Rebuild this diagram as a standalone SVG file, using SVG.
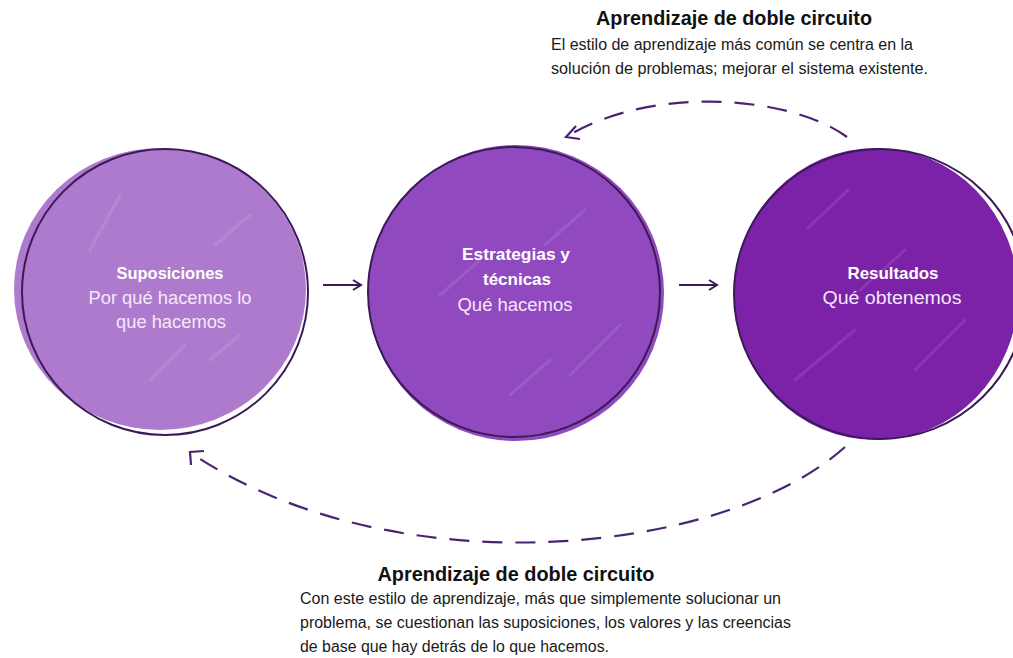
<svg xmlns="http://www.w3.org/2000/svg" width="1013" height="658" viewBox="0 0 1013 658">
<defs>
<style>
.title{font-family:"Liberation Sans","Noto Sans",sans-serif;font-weight:bold;font-size:20px;fill:#111;text-anchor:middle}
.body{font-family:"Liberation Sans","Noto Sans",sans-serif;font-size:16px;fill:#1a1a1a}
.nb{font-family:"Liberation Sans","Noto Sans",sans-serif;font-weight:bold;font-size:17px;fill:#fff;text-anchor:middle}
.nt{font-family:"Liberation Sans","Noto Sans",sans-serif;font-size:18px;fill:#f3e8fa;text-anchor:middle}
.ring{fill:none;stroke:#3b1a57;stroke-width:2}
.streak{stroke:#ffffff;stroke-opacity:0.1;stroke-width:3;stroke-linecap:round}
.conn{fill:none;stroke:#3b1a57;stroke-width:2}
.dash{fill:none;stroke:#4a2472;stroke-width:2.2;stroke-dasharray:20 13}
.head{fill:none;stroke:#4a2472;stroke-width:2.2}
</style>
<marker id="chev" viewBox="0 0 12 12" refX="10" refY="6" markerWidth="12" markerHeight="12" markerUnits="userSpaceOnUse" orient="auto">
<path d="M2,1 L10,6 L2,11" fill="none" stroke="#3b1a57" stroke-width="2"/>
</marker>
</defs>
<rect width="1013" height="658" fill="#ffffff"/>

<g id="node-suposiciones">
<ellipse cx="160" cy="289" rx="146" ry="141" fill="#ae7acd"/>
<line class="streak" x1="90" y1="250" x2="120" y2="195"/>
<line class="streak" x1="215" y1="245" x2="250" y2="215"/>
<line class="streak" x1="150" y1="380" x2="185" y2="345"/>
<line class="streak" x1="210" y1="360" x2="240" y2="335"/>
<ellipse class="ring" cx="165" cy="292" rx="143" ry="143"/>
<text class="nb" x="170" y="279" textLength="107" lengthAdjust="spacingAndGlyphs">Suposiciones</text>
<text class="nt" x="170" y="304" textLength="163" lengthAdjust="spacingAndGlyphs">Por qué hacemos lo</text>
<text class="nt" x="171" y="328" textLength="110" lengthAdjust="spacingAndGlyphs">que hacemos</text>
</g>

<g id="node-estrategias">
<ellipse cx="516" cy="293" rx="148" ry="148" fill="#9049bf"/>
<line class="streak" x1="545" y1="245" x2="585" y2="210"/>
<line class="streak" x1="440" y1="295" x2="480" y2="260"/>
<line class="streak" x1="510" y1="395" x2="550" y2="360"/>
<line class="streak" x1="570" y1="375" x2="620" y2="325"/>
<ellipse class="ring" cx="514" cy="292" rx="146" ry="145"/>
<text class="nb" x="516" y="260" textLength="108" lengthAdjust="spacingAndGlyphs">Estrategias y</text>
<text class="nb" x="517" y="285" textLength="68" lengthAdjust="spacingAndGlyphs">técnicas</text>
<text class="nt" x="515" y="311" textLength="115" lengthAdjust="spacingAndGlyphs">Qué hacemos</text>
</g>

<g id="node-resultados">
<ellipse cx="876" cy="294" rx="142" ry="146" fill="#7b22a9"/>
<line class="streak" x1="808" y1="228" x2="848" y2="190"/>
<line class="streak" x1="860" y1="290" x2="905" y2="250"/>
<line class="streak" x1="795" y1="380" x2="855" y2="330"/>
<line class="streak" x1="915" y1="370" x2="965" y2="320"/>
<ellipse class="ring" cx="880" cy="294" rx="146" ry="145"/>
<text class="nb" x="893" y="279" textLength="91" lengthAdjust="spacingAndGlyphs">Resultados</text>
<text class="nt" x="892" y="304" textLength="139" lengthAdjust="spacingAndGlyphs">Qué obtenemos</text>
</g>

<g id="connectors">
<line class="conn" x1="323" y1="285" x2="361" y2="285" marker-end="url(#chev)"/>
<line class="conn" x1="679" y1="285" x2="717" y2="285" marker-end="url(#chev)"/>
<path class="dash" d="M847,137 C790,95 650,85 566,137"/>
<path class="head" d="M576,126 L566,137 L580,139"/>
<path class="dash" d="M845,447 C725,555 395,590 191,453"/>
<path class="head" d="M191,465 L190,452 L204,451"/>
</g>

<g id="label-top">
<text class="title" x="734" y="25" textLength="276" lengthAdjust="spacingAndGlyphs">Aprendizaje de doble circuito</text>
<text class="body" x="551" y="50" textLength="362" lengthAdjust="spacingAndGlyphs">El estilo de aprendizaje más común se centra en la</text>
<text class="body" x="551" y="74" textLength="377" lengthAdjust="spacingAndGlyphs">solución de problemas; mejorar el sistema existente.</text>
</g>

<g id="label-bottom">
<text class="title" x="516" y="581" textLength="277" lengthAdjust="spacingAndGlyphs">Aprendizaje de doble circuito</text>
<text class="body" x="300" y="604" textLength="481" lengthAdjust="spacingAndGlyphs">Con este estilo de aprendizaje, más que simplemente solucionar un</text>
<text class="body" x="300" y="628" textLength="491" lengthAdjust="spacingAndGlyphs">problema, se cuestionan las suposiciones, los valores y las creencias</text>
<text class="body" x="300" y="652" textLength="309" lengthAdjust="spacingAndGlyphs">de base que hay detrás de lo que hacemos.</text>
</g>
</svg>
